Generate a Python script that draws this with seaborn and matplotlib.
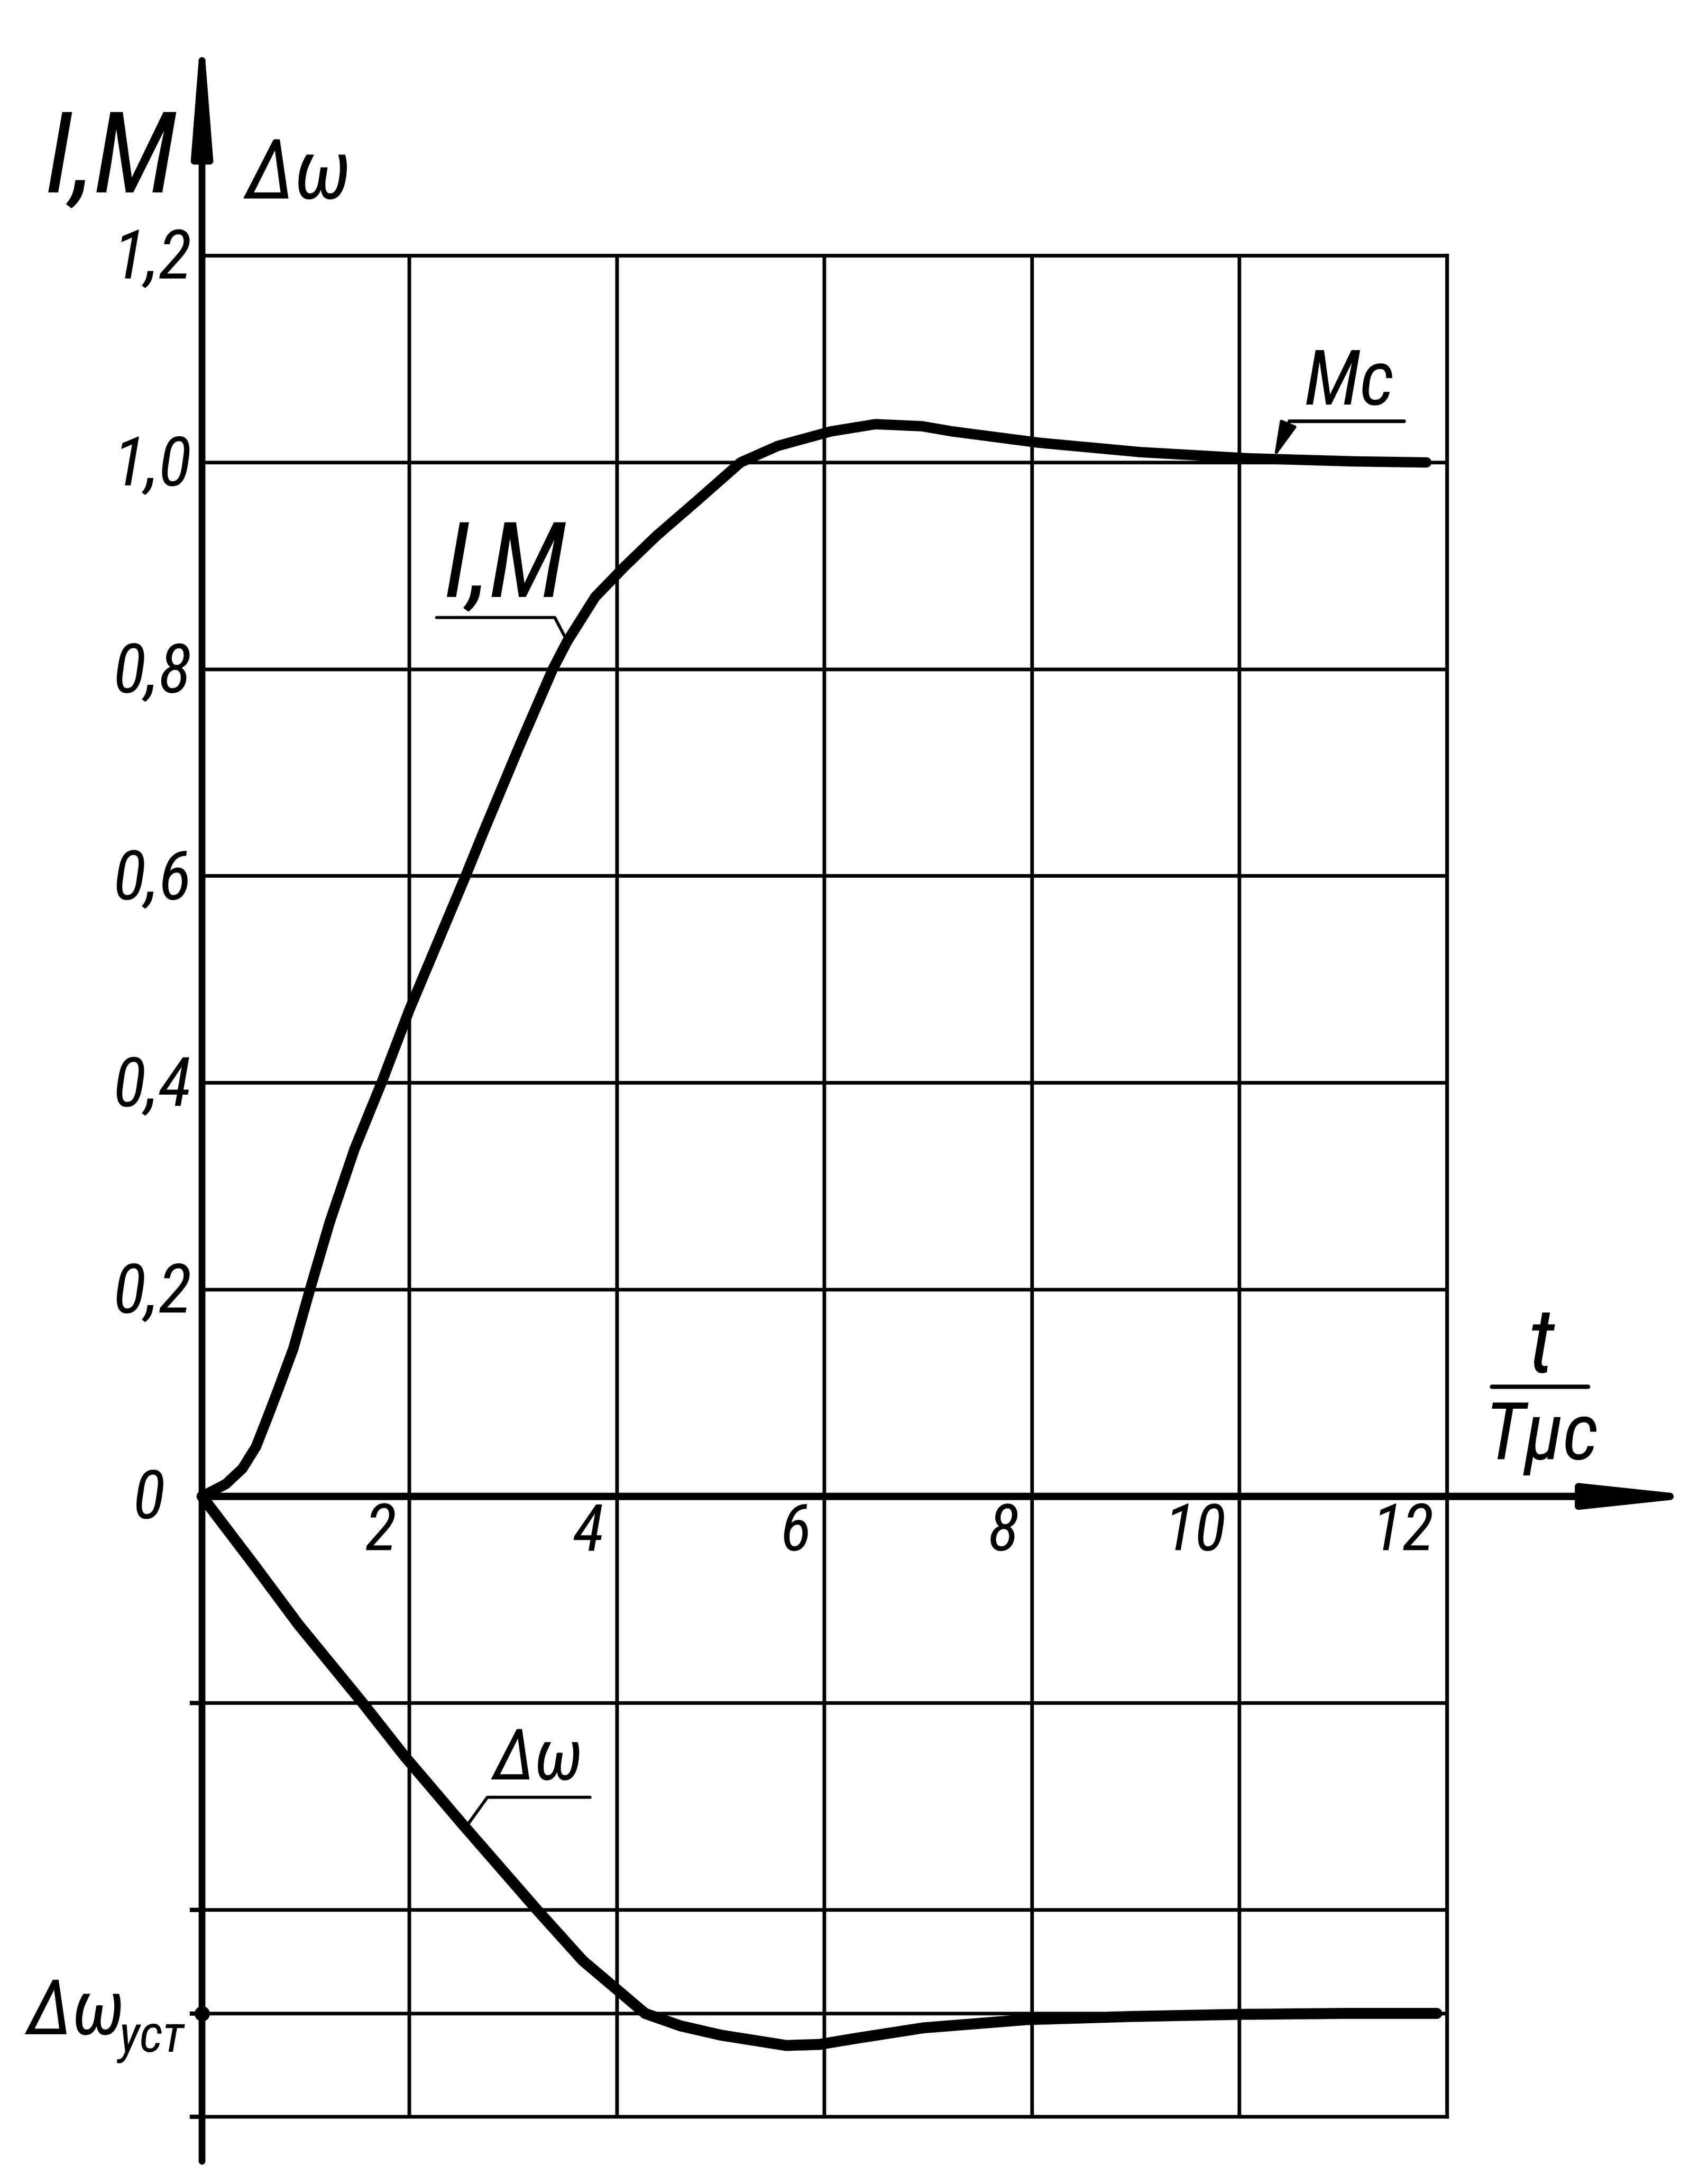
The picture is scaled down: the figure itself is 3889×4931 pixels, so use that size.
import matplotlib
matplotlib.use("Agg")
import matplotlib.pyplot as plt
from matplotlib import font_manager
import numpy as np
import pandas as pd
import seaborn as sns

# ---------------- data ----------------
t_im = [0, 0.23, 0.39, 0.52, 0.63, 0.74, 0.88, 1.04, 1.23, 1.47, 1.73, 2.0,
        2.54, 2.71, 3.06, 3.38, 3.52, 3.79, 4.08, 4.38, 4.76, 5.19, 5.55,
        6.06, 6.49, 6.94, 7.23, 8.07, 9.04, 10.08, 11.1, 11.8]
v_im = [0, 0.012, 0.027, 0.048, 0.076, 0.105, 0.143, 0.2, 0.265, 0.336, 0.40,
        0.471, 0.6, 0.642, 0.726, 0.8, 0.827, 0.870, 0.900, 0.929, 0.962, 1.0,
        1.016, 1.030, 1.037, 1.035, 1.030, 1.019, 1.010, 1.004, 1.001, 1.0]

t_dw = [0, 0.5, 0.93, 1.55, 1.95, 2.51, 3.23, 3.67, 4.0, 4.27, 4.61, 5.0,
        5.63, 5.95, 6.31, 6.95, 7.95, 8.95, 9.95, 11.0, 11.9]
v_dw = [0, -0.066, -0.124, -0.2, -0.251, -0.317, -0.4, -0.449, -0.477,
        -0.500, -0.512, -0.521, -0.531, -0.530, -0.524, -0.514, -0.506,
        -0.503, -0.501, -0.500, -0.500]

x_grid = [0, 2, 4, 6, 8, 10, 12]
y_grid = [-0.6, -0.5, -0.4, -0.2, 0, 0.2, 0.4, 0.6, 0.8, 1.0, 1.2]
y_lower_ticks = [-0.2, -0.4, -0.5, -0.6]

x_tick_vals = [2, 4, 6, 8, 10, 12]
x_tick_text = ["2", "4", "6", "8", "10", "12"]
y_tick_vals = [1.2, 1.0, 0.8, 0.6, 0.4, 0.2]
y_tick_text = ["1,2", "1,0", "0,8", "0,6", "0,4", "0,2"]

dw_steady = -0.5

# ---------------- style ----------------
sns.set_theme(style="white")
names = {f.name for f in font_manager.fontManager.ttflist}
if "Roboto Condensed" in names:
    FAM = ["Roboto Condensed", "DejaVu Sans"]
    STRETCH = "normal"
else:
    FAM = ["DejaVu Sans"]
    STRETCH = "condensed"
plt.rcParams["font.family"] = FAM

fig = plt.figure(figsize=(38.89, 49.31), dpi=100)
fig.patch.set_facecolor("white")
ax = fig.add_axes([0.11828, 0.02271, 0.72898, 0.85927])
ax.set_facecolor("white")
ax.set_xlim(0, 12)
ax.set_ylim(-0.6, 1.2)

GRID_LW = 6
ax.set_xticks(x_grid)
ax.set_yticks(y_grid)
ax.grid(True, color="black", lw=GRID_LW)
ax.tick_params(length=0, labelbottom=False, labelleft=False)
for side in ["top", "right", "bottom"]:
    ax.spines[side].set_visible(True)
    ax.spines[side].set_color("black")
    ax.spines[side].set_linewidth(GRID_LW)
ax.spines["left"].set_visible(False)

# curves
df_im = pd.DataFrame({"t": t_im, "v": v_im})
df_dw = pd.DataFrame({"t": t_dw, "v": v_dw})
sns.lineplot(data=df_im, x="t", y="v", ax=ax, color="black", lw=17,
             sort=False, estimator=None, clip_on=False, solid_capstyle="round",
             solid_joinstyle="round")
sns.lineplot(data=df_dw, x="t", y="v", ax=ax, color="black", lw=18,
             sort=False, estimator=None, clip_on=False, solid_capstyle="round",
             solid_joinstyle="round")
ax.set_xlabel("")
ax.set_ylabel("")

# axes with arrows
ax.annotate("", xy=(14.48, 0), xytext=(0, 0), annotation_clip=False,
            arrowprops=dict(arrowstyle="-|>,head_length=1.5,head_width=0.16",
                            mutation_scale=100, lw=12, color="black",
                            shrinkA=0, shrinkB=0))
ax.annotate("", xy=(0, 1.43), xytext=(0, -0.643), annotation_clip=False,
            arrowprops=dict(arrowstyle="-|>,head_length=1.65,head_width=0.13",
                            mutation_scale=100, lw=11, color="black",
                            shrinkA=0, shrinkB=0))

# small ticks left of the axis below zero
ax.hlines(y_lower_ticks, -0.12, 0, color="black", lw=7, clip_on=False)
ax.plot([0], [dw_steady], "o", color="black", ms=24, clip_on=False)

TXT = dict(color="black", fontstyle="italic", fontstretch=STRETCH,
           clip_on=False)

# tick labels
for v, s in zip(y_tick_vals, y_tick_text):
    ax.text(-0.1, v - 0.004, s, ha="right", va="center", fontsize=112, **TXT)
for v, s in zip(x_tick_vals, x_tick_text):
    ax.text(v - 0.13, -0.035, s, ha="right", va="center", fontsize=106, **TXT)
ax.text(-0.51, -0.003, "0", ha="center", va="center", fontsize=110, **TXT)

# axis labels
ax.text(-0.88, 1.291, "I,M", ha="center", va="center", fontsize=185, **TXT)
ax.text(0.93, 1.277, "Δω", ha="center", va="center", fontsize=135, **TXT)
ax.text(12.91, 0.144, "t", ha="center", va="center", fontsize=150, **TXT)
ax.plot([12.43, 13.36], [0.106, 0.106], color="black", lw=7,
        solid_capstyle="round", clip_on=False)
ax.text(12.91, 0.057, "Tμc", ha="center", va="center", fontsize=130, **TXT)

# steady-state speed label
ax.text(-1.215, -0.500, "Δω", ha="center", va="center", fontsize=125, **TXT)
ax.text(-0.487, -0.524, "уст", ha="center", va="center", fontsize=85, **TXT)

# curve labels with leaders
ax.text(2.92, 0.898, "I,M", ha="center", va="center", fontsize=172, **TXT)
ax.plot([2.26, 3.40, 3.52], [0.850, 0.850, 0.827], color="black", lw=5,
        clip_on=False)

ax.text(3.24, -0.255, "Δω", ha="center", va="center", fontsize=115, **TXT)
ax.plot([3.74, 2.75, 2.57], [-0.291, -0.291, -0.316], color="black", lw=5,
        clip_on=False)

ax.text(11.06, 1.076, "Mc", ha="center", va="center", fontsize=125, **TXT)
ax.plot([11.585, 10.48], [1.040, 1.040], color="black", lw=6, clip_on=False)
ax.annotate("", xy=(10.33, 1.004), xytext=(10.48, 1.040),
            annotation_clip=False,
            arrowprops=dict(arrowstyle="-|>,head_length=0.5,head_width=0.12",
                            mutation_scale=100, lw=5, color="black",
                            shrinkA=0, shrinkB=0))

fig.savefig("out.png", dpi=100, facecolor="white")
